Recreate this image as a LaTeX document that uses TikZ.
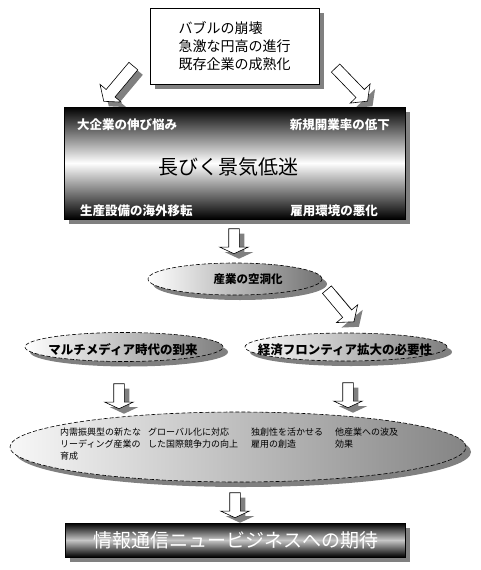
\documentclass[tikz,border=0pt]{standalone}
\usepackage{fontspec}
\setmainfont{Noto Sans CJK JP}
\usetikzlibrary{shapes.geometric,shapes.arrows,shadows}
\begin{document}
\begin{tikzpicture}[x=1pt,y=-1pt,
  shad/.style={drop shadow={shadow xshift=5pt,shadow yshift=-5pt,fill=black!50,opacity=1}},
  topbox/.style={draw=black,line width=0.8pt,fill=white,shad,minimum width=169pt,minimum height=76pt,inner sep=0pt,align=left,font=\fontsize{14pt}{18pt}\selectfont},
  darkbox/.style={draw=black,line width=0.8pt,shad,inner sep=0pt},
  blockarrow/.style={single arrow,draw=black,fill=white,line width=0.6pt,inner sep=5pt,minimum width=0pt,single arrow head extend=9pt,single arrow tip angle=130,minimum height=25pt,shape border rotate=270,shad},
  diagarrow/.style={single arrow,draw=black,fill=white,line width=0.6pt,inner xsep=0pt,inner ysep=5.5pt,minimum width=0pt,single arrow head extend=8pt,single arrow tip angle=105,minimum height=46pt,shad},
  ell/.style={ellipse,draw=black,dash pattern=on 4pt off 2pt,line width=0.6pt,inner sep=0pt,shad},
  corner/.style={inner sep=0pt,text=white,font=\bfseries\fontsize{12.5pt}{14pt}\selectfont},
  elltext/.style={inner sep=0pt,font=\bfseries\fontsize{12.5pt}{14pt}\selectfont},
  coltext/.style={inner sep=0pt,anchor=north west,align=left,font=\fontsize{9pt}{12pt}\selectfont}
]
\useasboundingbox (0,0) rectangle (480,570);

% top box
\node[topbox] (top) at (234.5,46) {バブルの崩壊\\急激な円高の進行\\既存企業の成熟化};
\node[diagarrow,rotate=-130] (al) at (120,82) {};
\node[diagarrow,rotate=-46] (ar) at (350,83) {};

% main dark box
\node[darkbox,minimum width=341pt,minimum height=112pt,top color=black,bottom color=black,middle color=white] (main) at (234.5,163) {};
\node[inner sep=0pt,font=\fontsize{20pt}{22pt}\selectfont] (mt) at (228,167) {長びく景気低迷};
\node[corner,anchor=west] (c1) at (77,125) {大企業の伸び悩み};
\node[corner,anchor=east] (c2) at (390,125) {新規開業率の低下};
\node[corner,anchor=west] (c3) at (80,211) {生産設備の海外移転};
\node[corner,anchor=east] (c4) at (378,211) {雇用環境の悪化};

% arrow down to hollowing
\node[blockarrow] (a2) at (234,240) {};

% hollowing ellipse
\node[ell,minimum width=174pt,minimum height=32pt,left color=white,right color=black!55] (e1) at (235,279) {};
\node[elltext,font=\bfseries\fontsize{11.5pt}{13pt}\selectfont] (t1) at (248,279) {産業の空洞化};
\node[diagarrow,rotate=-50,minimum height=42pt] (a3) at (339,304) {};

% two ellipses
\node[ell,minimum width=198pt,minimum height=29pt,left color=white,right color=black!50] (e2) at (124,347) {};
\node[elltext] (t2) at (123,350) {マルチメディア時代の到来};
\node[ell,minimum width=202pt,minimum height=28pt,left color=white,right color=black!50] (e3) at (346,347) {};
\node[elltext] (t3) at (345,350) {経済フロンティア拡大の必要性};

\node[blockarrow] (a4) at (119,395) {};
\node[blockarrow] (a5) at (348,394) {};

% big ellipse
\node[ell,minimum width=456pt,minimum height=70pt,left color=black!3,middle color=black!38,right color=black!48] (e4) at (238,447) {};
\node[coltext] (k1) at (60,428) {内需振興型の新たな\\リーディング産業の\\育成};
\node[coltext] (k2) at (148,428) {グローバル化に対応\\した国際競争力の向上};
\node[coltext] (k3) at (251,428) {独創性を活かせる\\雇用の創造};
\node[coltext] (k4) at (335,428) {他産業への波及\\効果};

\node[blockarrow] (a6) at (235,504) {};

% bottom box
\node[darkbox,minimum width=340pt,minimum height=34pt,top color=black,bottom color=black,middle color=black!22] (bot) at (235,540) {};
\node[inner sep=0pt,text=white,font=\fontsize{19pt}{21pt}\selectfont] (bt) at (236,540) {情報通信ニュービジネスへの期待};
\end{tikzpicture}
\end{document}
